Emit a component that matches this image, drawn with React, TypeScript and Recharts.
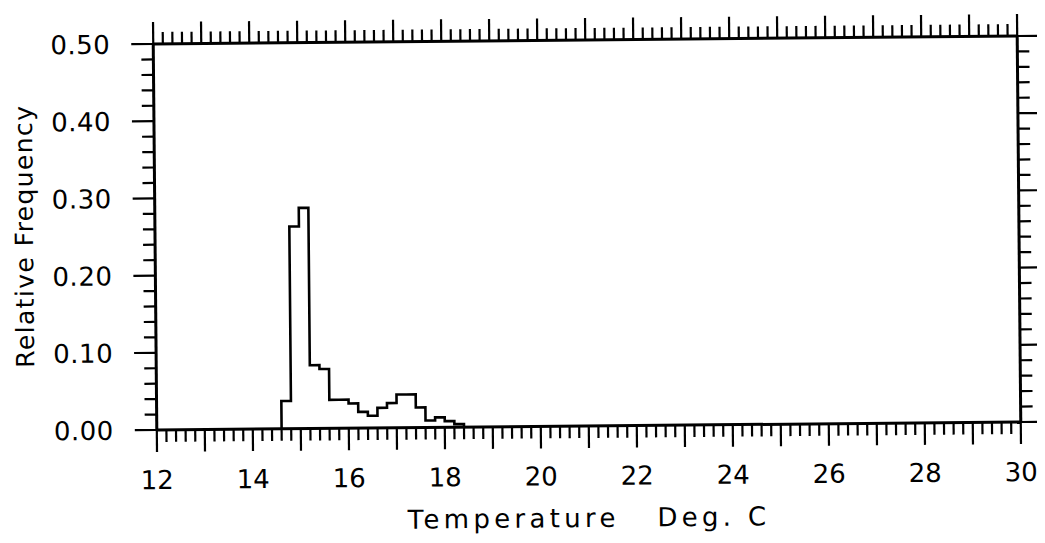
import { ComposedChart, Line, XAxis, YAxis } from 'recharts';

// histogram bins (0.2 deg wide), start of each bin
const binStarts = [14.6, 14.8, 15.0, 15.2, 15.4, 15.6, 15.8, 16.0, 16.2, 16.4, 16.6, 16.8, 17.0, 17.2, 17.4, 17.6, 17.8, 18.0, 18.2];
const relFreq = [0.036, 0.262, 0.286, 0.082, 0.077, 0.037, 0.037, 0.032, 0.021, 0.016, 0.026, 0.032, 0.043, 0.043, 0.026, 0.009, 0.013, 0.008, 0.004];
const binWidth = 0.2;

const xTickLabels = [12, 14, 16, 18, 20, 22, 24, 26, 28, 30];
const yTickLabels = ['0.00', '0.10', '0.20', '0.30', '0.40', '0.50'];

const xMinorTicks: number[] = [];
for (let k = 0; k <= 90; k++) xMinorTicks.push(Math.round((12 + k * 0.2) * 10) / 10);
const yMinorTicks: number[] = [];
for (let k = 0; k <= 25; k++) yMinorTicks.push(Math.round(k * 2) / 100);

const last = binStarts.length - 1;
const histData = [
  { temp: binStarts[0], freq: 0 },
  ...binStarts.map((t, i) => ({ temp: t, freq: relFreq[i] })),
  { temp: Math.round((binStarts[last] + binWidth) * 10) / 10, freq: 0 },
];

const W = 1037;
const H = 527;
const TOP_H = 32;
const BOTTOM_H = 109;
const PLOT_H = H - TOP_H - BOTTOM_H;

const FONT = '"DejaVu Sans", sans-serif';
const LONG = 22;
const SHORT = 12;

const isWhole = (v: number, mult: number) => Math.abs(v * mult - Math.round(v * mult)) < 1e-6;

// draws bottom tick, the matching top-frame tick, and the even labels
const XTick = (props: any) => {
  const { x, y, payload } = props;
  const v = payload.value;
  const major = isWhole(v, 1);
  const len = major ? LONG : SHORT;
  const showLabel = major && xTickLabels.includes(Math.round(v));
  const top = y - PLOT_H;
  return (
    <g>
      <line x1={x} x2={x} y1={y} y2={y + len} stroke="#000" strokeWidth={2.2} />
      <line x1={x} x2={x} y1={top} y2={top - len} stroke="#000" strokeWidth={2.2} />
      {showLabel && (
        <text x={x} y={y + 59} textAnchor="middle" fontFamily={FONT} fontSize={26} fill="#000">
          {Math.round(v)}
        </text>
      )}
    </g>
  );
};

const LeftTick = (props: any) => {
  const { x, y, payload } = props;
  const v = payload.value;
  const major = isWhole(v, 10);
  const label = major ? yTickLabels[Math.round(v * 10)] : null;
  return (
    <g>
      <line x1={x} x2={x - (major ? LONG : SHORT)} y1={y} y2={y} stroke="#000" strokeWidth={2.2} />
      {label && (
        <text x={x - 43} y={y} dy="0.36em" textAnchor="end" fontFamily={FONT} fontSize={26} letterSpacing={0.5} fill="#000">
          {label}
        </text>
      )}
    </g>
  );
};

const RightTick = (props: any) => {
  const { x, y, payload } = props;
  const major = isWhole(payload.value, 10);
  return <line x1={x} x2={x + (major ? LONG : SHORT)} y1={y} y2={y} stroke="#000" strokeWidth={2.2} />;
};

const axisLine = { stroke: '#000', strokeWidth: 3 };

export default function App() {
  return (
    <div
      style={{
        position: 'relative',
        width: W,
        height: H,
        background: '#fff',
        transform: 'rotate(-0.53deg)',
        transformOrigin: '579px 225px',
      }}
    >
      <ComposedChart width={W} height={H} data={histData} margin={{ top: 0, right: 0, bottom: 0, left: 0 }}>
        <XAxis
          dataKey="temp"
          type="number"
          domain={[12, 30]}
          ticks={xMinorTicks}
          interval={0}
          allowDataOverflow
          height={BOTTOM_H}
          tickSize={0}
          tickMargin={0}
          tickLine={false}
          axisLine={axisLine}
          tick={<XTick />}
        />
        <XAxis
          xAxisId="top"
          orientation="top"
          type="number"
          domain={[12, 30]}
          allowDataOverflow
          height={TOP_H}
          tickLine={false}
          axisLine={axisLine}
          tick={false}
        />
        <YAxis
          type="number"
          domain={[0, 0.5]}
          ticks={yMinorTicks}
          interval={0}
          allowDataOverflow
          width={147}
          tickSize={0}
          tickMargin={0}
          tickLine={false}
          axisLine={axisLine}
          tick={<LeftTick />}
        />
        <YAxis
          yAxisId="right"
          orientation="right"
          type="number"
          domain={[0, 0.5]}
          ticks={yMinorTicks}
          interval={0}
          allowDataOverflow
          width={26}
          tickSize={0}
          tickMargin={0}
          tickLine={false}
          axisLine={axisLine}
          tick={<RightTick />}
        />
        <Line
          type="stepAfter"
          dataKey="freq"
          stroke="#000"
          strokeWidth={2.6}
          dot={false}
          isAnimationActive={false}
        />
      </ComposedChart>
      <svg width={W} height={H} style={{ position: 'absolute', left: 0, top: 0, pointerEvents: 'none' }}>
        <text
          x={397}
          y={519}
          fontFamily={FONT}
          fontSize={26}
          letterSpacing={4.3}
          fill="#000"
          style={{ whiteSpace: 'pre' }}
        >
          {'Temperature   Deg. C'}
        </text>
        <text
          x={25}
          y={223}
          transform="rotate(-90, 25, 223)"
          textAnchor="middle"
          fontFamily={FONT}
          fontSize={25}
          letterSpacing={1.4}
          fill="#000"
        >
          Relative Frequency
        </text>
      </svg>
    </div>
  );
}
